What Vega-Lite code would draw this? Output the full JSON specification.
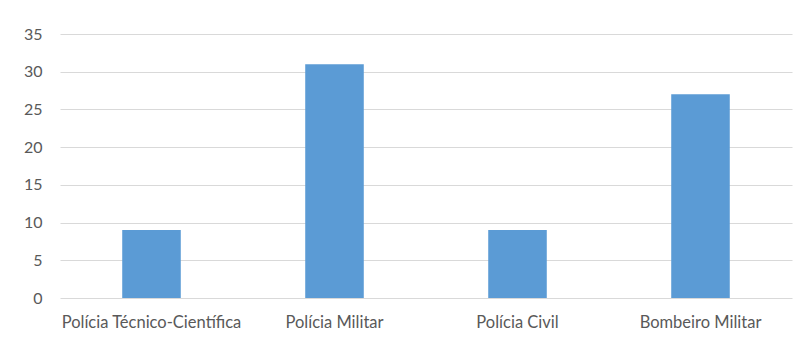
{
  "$schema": "https://vega.github.io/schema/vega-lite/v6.json",
  "autosize": {"type": "none"},
  "width": 732,
  "height": 264,
  "padding": {"left": 60, "top": 34, "right": 15, "bottom": 42},
  "background": "#ffffff",
  "config": {
    "view": {"stroke": null},
    "font": "Lato",
    "axis": {"labelColor": "#595959", "labelFontSize": 16, "labelFont": "Lato"}
  },
  "data": {
    "values": [
      {"categoria": "Polícia Técnico-Científica", "valor": 9},
      {"categoria": "Polícia Militar", "valor": 31},
      {"categoria": "Polícia Civil", "valor": 9},
      {"categoria": "Bombeiro Militar", "valor": 27}
    ]
  },
  "mark": {"type": "bar", "color": "#5B9BD5"},
  "encoding": {
    "x": {
      "field": "categoria",
      "type": "nominal",
      "sort": null,
      "scale": {"paddingInner": 0.68, "paddingOuter": 0.34},
      "axis": {"title": null, "labelAngle": 0, "domain": false, "ticks": false, "labelPadding": 16, "labelFontSize": 16.5, "labelLimit": 400}
    },
    "y": {
      "field": "valor",
      "type": "quantitative",
      "scale": {"domain": [0, 35], "nice": false},
      "axis": {
        "title": null,
        "values": [0, 5, 10, 15, 20, 25, 30, 35],
        "domain": false,
        "ticks": false,
        "labelPadding": 18,
        "gridColor": "#d9d9d9",
        "gridWidth": 1
      }
    }
  }
}
